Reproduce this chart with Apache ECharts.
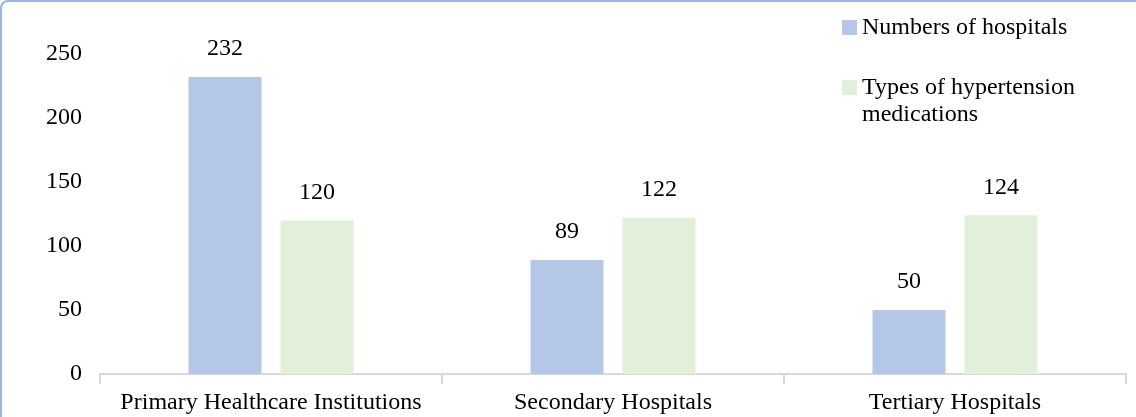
<!DOCTYPE html>
<html>
<head>
<meta charset="utf-8">
<script src="https://cdn.jsdelivr.net/npm/echarts@6/dist/echarts.min.js"></script>
<style>
  html, body { margin: 0; padding: 0; background: #fff; }
  #frame {
    position: absolute; left: 0; top: 0; width: 1136px; height: 417px;
    box-sizing: border-box;
    border-top: 2px solid #9db4e0; border-left: 2px solid #9db4e0;
    border-top-left-radius: 8px; pointer-events: none;
  }
  #chart { width: 1136px; height: 417px; }
</style>
</head>
<body>
<div id="chart"></div>
<div id="frame"></div>
<script>
const categories = ['Primary Healthcare Institutions', 'Secondary Hospitals', 'Tertiary Hospitals'];
const hospitals = [232, 89, 50];
const medications = [120, 122, 124];
const seriesNames = ['Numbers of hospitals', 'Types of hypertension\nmedications'];

const font = 'Liberation Serif';
const chart = echarts.init(document.getElementById('chart'));

const option = {
  animation: false,
  textStyle: { fontFamily: font },
  grid: { left: 100, right: 10, top: 54, bottom: 43 },
  legend: {
    orient: 'vertical',
    left: 837,
    top: 9,
    itemWidth: 15,
    itemHeight: 15,
    itemGap: 6,
    icon: 'rect',
    textStyle: { fontFamily: font, fontSize: 24, color: '#000', lineHeight: 27 },
    // leading empty line keeps the square beside the first line of the wrapped name
    formatter: function (name) {
      return name.indexOf('\n') >= 0 ? '\n' + name : name;
    },
    data: seriesNames
  },
  xAxis: {
    type: 'category',
    data: categories,
    axisLine: { lineStyle: { color: '#d9d9d9', width: 2 } },
    axisTick: { show: true, interval: 0, length: 10, lineStyle: { color: '#d9d9d9', width: 2 } },
    axisLabel: { interval: 0, fontFamily: font, fontSize: 24, color: '#000', margin: 17 }
  },
  yAxis: {
    type: 'value',
    min: 0,
    max: 250,
    interval: 50,
    axisLine: { show: false },
    axisTick: { show: false },
    splitLine: { show: false },
    axisLabel: { fontFamily: font, fontSize: 24, color: '#000', margin: 18 }
  },
  series: [
    {
      name: seriesNames[0],
      type: 'bar',
      data: hospitals,
      barWidth: 73,
      barGap: '26%',
      itemStyle: { color: '#b4c7e7' },
      label: { show: true, position: 'top', distance: 16, fontFamily: font, fontSize: 24, color: '#000' }
    },
    {
      name: seriesNames[1],
      type: 'bar',
      data: medications,
      barWidth: 73,
      itemStyle: { color: '#e2f0d9' },
      label: { show: true, position: 'top', distance: 16, fontFamily: font, fontSize: 24, color: '#000' }
    }
  ]
};

chart.setOption(option);
</script>
</body>
</html>
